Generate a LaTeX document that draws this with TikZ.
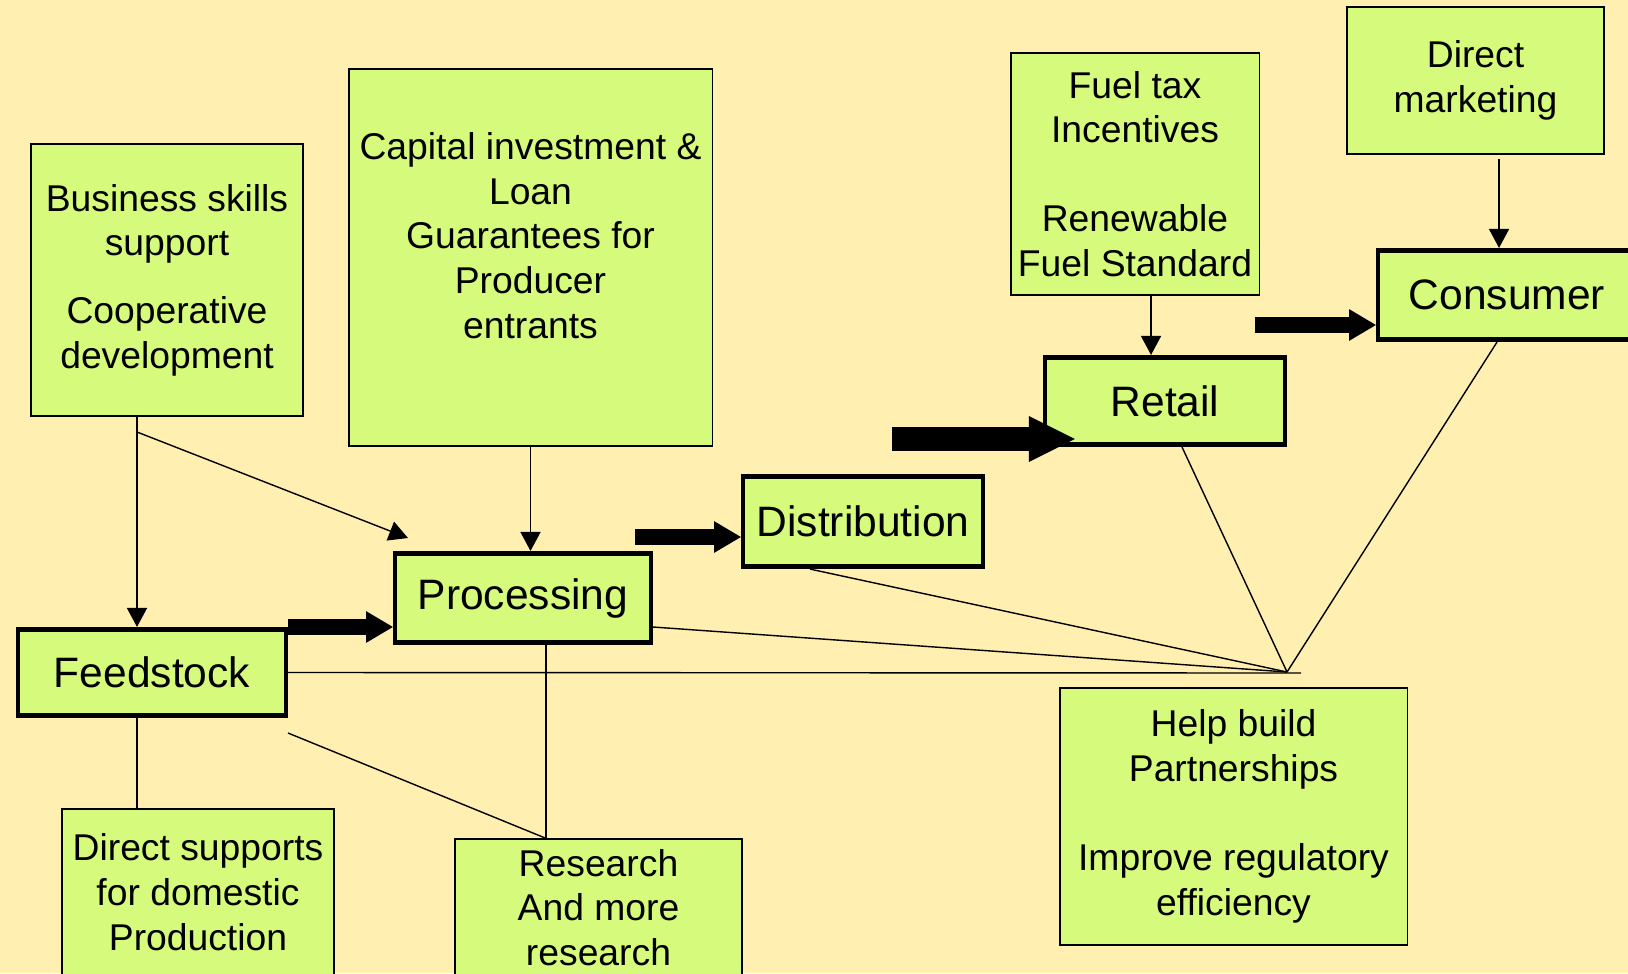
\documentclass[tikz,border=0pt]{standalone}
\usepackage{fontspec}
\setmainfont{Liberation Sans}
\usetikzlibrary{arrows.meta}
\definecolor{bgyellow}{HTML}{FFF0B2}
\definecolor{boxgreen}{HTML}{D6FA7B}

\begin{document}
\begin{tikzpicture}[x=0.01cm, y=-0.01cm,
  policy/.style={rectangle, draw, fill=boxgreen, line width=0.35pt, align=center, inner sep=2pt, font=\fontsize{10.6}{12.7}\selectfont},
  stage/.style={rectangle, draw, fill=boxgreen, line width=1.3pt, align=center, inner sep=2pt, font=\fontsize{12.1}{14.5}\selectfont},
  feed/.style={-{Triangle[length=5.4pt, width=5.7pt]}, line width=0.4pt},
  link/.style={line width=0.4pt},
  flow/.style={-{Triangle[length=7.6pt, width=9pt, line width=0pt]}, line width=4.5pt},
]
  % Background
  \clip (0,0) rectangle (1628,973);
  \fill[bgyellow] (0,0) rectangle (1628,973);
  % Policy boxes
  \node (skills) [policy, minimum width=2.72cm, minimum height=2.72cm] at (167, 280) {Business skills\\support\\[6.5pt]Cooperative\\development};
  \node (capital) [policy, minimum width=3.63cm, minimum height=3.77cm] at (530.5, 257.5) {Capital investment \&\\Loan\\Guarantees for\\Producer\\entrants\\~};
  \node (fueltax) [policy, minimum width=2.42cm, minimum height=2.42cm] at (1135, 174) {Fuel tax\\Incentives\\[12.7pt]Renewable\\Fuel Standard};
  \node (dirmkt) [policy, minimum width=2.57cm, minimum height=1.47cm] at (1475.5, 80.5) {Direct\\marketing};
  \node (partner) [policy, minimum width=3.47cm, minimum height=2.57cm] at (1233.5, 816.5) {Help build\\Partnerships\\[12.7pt]Improve regulatory\\efficiency};
  \node (dirsupp) [policy, minimum width=2.72cm, minimum height=1.66cm] at (198, 892) {Direct supports\\for domestic\\Production};
  \node (research) [policy, minimum width=2.87cm, minimum height=1.37cm] at (598.5, 907.5) {Research\\And more\\research};
  % Stages
  \node (feedstock) [stage, minimum width=2.675cm, minimum height=0.865cm] at (152, 672.5) {Feedstock};
  \node (processing) [stage, minimum width=2.555cm, minimum height=0.895cm] at (523, 598) {Processing};
  \node (distribution) [stage, minimum width=2.395cm, minimum height=0.905cm] at (863, 521.5) {Distribution};
  \node (retail) [stage, minimum width=2.395cm, minimum height=0.875cm] at (1165, 401) {Retail};
  \node (consumer) [stage, minimum width=2.575cm, minimum height=0.895cm] at (1507, 295) {Consumer};
  % Points
  \coordinate (split) at (137, 432);
  \coordinate (proctip) at (408, 538);
  \coordinate (hub) at (1287, 672);
  \coordinate (hubend) at (1301, 673);
  \coordinate (feedcorner) at (288, 733);
  \coordinate (f2p) at (288, 627);
  \coordinate (p2d) at (635, 537);
  \coordinate (d2r) at (892, 439);
  \coordinate (r2c) at (1255, 325);
  \coordinate (fuelout) at ([xshift=0.16cm]fueltax.south);
  \coordinate (mktout) at ([xshift=0.235cm, yshift=-0.04cm]dirmkt.south);
  \coordinate (retailtip) at ([xshift=0.32cm]retail.west);
  \coordinate (procout) at ([xshift=0.23cm]processing.south);
  % Thin arrows
  \draw[feed] (skills.south -| split) -- (feedstock.north -| split);
  \draw[feed] (split) -- (proctip);
  \draw[feed] (capital.south) -- (processing.north -| capital.south);
  \draw[feed] (fuelout) -- (fuelout |- retail.north);
  \draw[feed] (mktout) -- (mktout |- consumer.north);
  % Lines
  \draw[link] (feedstock.east) -- (hubend);
  \draw[link] ([yshift=-0.29cm]processing.east) -- (hub);
  \draw[link] ([xshift=-0.53cm]distribution.south) -- (hub);
  \draw[link] ([xshift=0.17cm]retail.south) -- (hub);
  \draw[link] ([xshift=-0.1cm]consumer.south) -- (hub);
  \draw[link] (feedstock.south -| split) -- (dirsupp.north -| split);
  \draw[link] (feedcorner) -- (procout |- research.north);
  \draw[link] (procout) -- (procout |- research.north);
  % Block arrows
  \draw[flow] (f2p) -- (processing.west |- f2p);
  \draw[flow] (p2d) -- (distribution.west |- p2d);
  \draw[flow, line width=6.8pt, -{Triangle[length=13.1pt, width=13.1pt, line width=0pt]}] (d2r) -- (retailtip |- d2r);
  \draw[flow] (r2c) -- (consumer.west |- r2c);
\end{tikzpicture}
\end{document}
